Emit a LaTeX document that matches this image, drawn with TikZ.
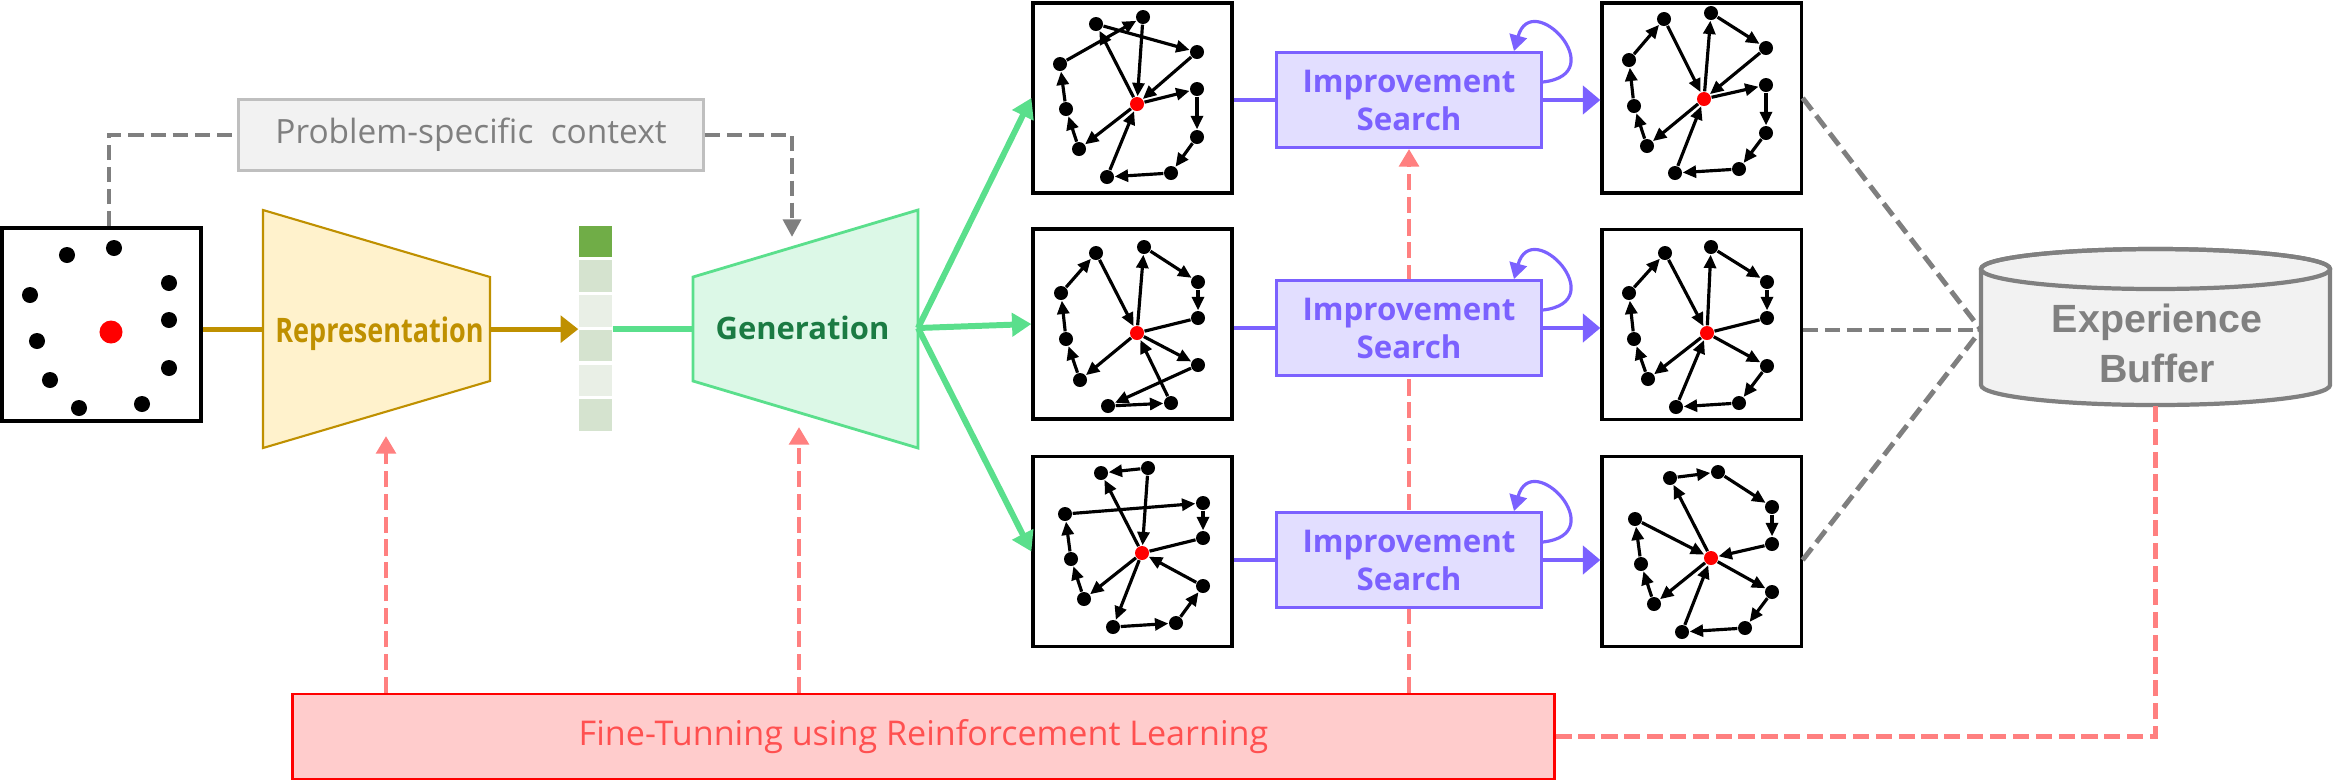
\documentclass[tikz,border=0pt]{standalone}
\usepackage{fontspec}
\setmainfont{Open Sans}
\newfontfamily\narrowsans[FakeStretch=0.8]{Open Sans}
\newfontfamily\buffersans{Liberation Sans}
\usetikzlibrary{arrows.meta,positioning}

\definecolor{ctxGray}{HTML}{7F7F7F}
\definecolor{ctxFill}{HTML}{F2F2F2}
\definecolor{ctxEdge}{HTML}{BFBFBF}
\definecolor{repGold}{HTML}{BF9000}
\definecolor{repFill}{HTML}{FFF2CC}
\definecolor{vecDark}{HTML}{70AD47}
\definecolor{vecMid}{HTML}{D5E3CF}
\definecolor{vecLight}{HTML}{E9EFE6}
\definecolor{genGreen}{HTML}{5ADF8C}
\definecolor{genFill}{HTML}{DCF8E7}
\definecolor{genText}{HTML}{1B7B43}
\definecolor{isPurple}{HTML}{7B61FF}
\definecolor{isFill}{HTML}{E2DEFF}
\definecolor{rlRed}{HTML}{FF8080}
\definecolor{ftFill}{HTML}{FFCCCC}
\definecolor{ftText}{HTML}{FF5050}
\definecolor{bufGray}{HTML}{808080}

\newcommand{\drawtours}[4]{%
  \node[depot] (#1r) at (#2) {};
  \foreach \n/\x/\y in {#3} \node[dot] (#1\n) at (\x,\y) {};
  \foreach \src/\dst in {#4} \draw[tour] (#1\src) -- (#1\dst);
}

\tikzset{
  dot/.style={circle,fill=black,inner sep=0pt,minimum size=0.14cm},
  depot/.style={dot,fill=red},
  bigdot/.style={circle,fill=black,inner sep=0pt,minimum size=0.16cm},
  tour/.style={line width=0.9pt,-{Triangle[length=3.8pt,width=3.4pt]}},
  route/.style={line width=0.9pt},
  panel/.style={draw,line width=0.9pt,minimum width=1.99cm,minimum height=1.9cm,inner sep=0pt},
  cell/.style={minimum width=0.33cm,minimum height=0.315cm,inner sep=0pt},
  context/.style={draw=ctxEdge,fill=ctxFill,line width=0.85pt,minimum width=4.64cm,minimum height=0.7cm,
    text=ctxGray,font=\fontsize{9.5}{11}\selectfont},
  search/.style={draw=isPurple,fill=isFill,line width=0.8pt,minimum width=2.65cm,minimum height=0.95cm,
    inner sep=0pt,align=center,text=isPurple,font=\bfseries\fontsize{8.9}{10.8}\selectfont},
  finetune/.style={draw=red,fill=ftFill,line width=0.7pt,minimum width=12.61cm,minimum height=0.85cm,
    text=ftText,font=\fontsize{9.7}{11}\selectfont},
  ctxLine/.style={draw=ctxGray,line width=1.4pt,dash pattern=on 4.3pt off 2pt},
  ctxArrow/.style={ctxLine,-{Triangle[length=5pt,width=5pt]}},
  rlLine/.style={draw=rlRed,line width=1.25pt,dash pattern=on 4.6pt off 1.9pt},
  rlArrow/.style={rlLine,-{Triangle[length=5pt,width=5.5pt]}},
  repArrow/.style={draw=repGold,line width=1.4pt,-{Triangle[length=5pt,width=7.5pt]}},
  genLine/.style={draw=genGreen,line width=1.7pt},
  genArrow/.style={genLine,-{Triangle[length=5.5pt,width=6.5pt]}},
  searchLine/.style={draw=isPurple,line width=1.4pt},
  searchArrow/.style={searchLine,-{Triangle[length=5pt,width=8pt]}},
  loopArrow/.style={draw=isPurple,line width=0.9pt,-{Triangle[length=4.5pt,width=5pt]}},
}

\begin{document}
\begin{tikzpicture}[x=0.01cm,y=-0.01cm]
\useasboundingbox (0,0) rectangle (2334,781);

% instance and context
\node[context] (ctx) at (471,135) {Problem-specific\ \ context};
\node[panel,minimum height=1.93cm] (input) at (101.5,324.5) {};
\node[depot,minimum size=0.23cm] (in0) at (111,332) {};
\foreach \x/\y [count=\k] in {67/255,114/248,169/283,30/295,169/320,37/341,169/368,50/380,79/408,142/404}
  \node[bigdot] (in\k) at (\x,\y) {};
\coordinate (genTop) at (792,237);
\draw[ctxLine] ([xshift=0.075cm]input.north) |- (ctx.west);
\draw[ctxArrow] (ctx.east) -| (genTop);

% embedding
\foreach \c [count=\i from 0] in {vecDark,vecMid,vecLight,vecMid,vecLight,vecMid}
  \node[cell,fill=\c] (v\i) at (595.5,241.5+34.7*\i) {};

% representation
\draw[repArrow] (input.east |- v3.north) -- (v3.north west);
\path[draw=repGold,fill=repFill,line width=0.6pt] (263,210) -- (490,277) -- (490,381) -- (263,448) -- cycle;
\node[anchor=base,text=repGold,font=\narrowsans\bfseries\fontsize{9.6}{11}\selectfont] (rep) at (379.5,342) {Representation};

% generation
\coordinate (genL) at (693,328);
\coordinate (genR) at (918,328);
\path[draw=genGreen,fill=genFill,line width=0.8pt] (693,277) -- (918,210) -- (918,448) -- (693,381) -- cycle;
\node[anchor=base,text=genText,font=\bfseries\fontsize{8.8}{10}\selectfont] (gen) at (802.5,339) {Generation};
\draw[genLine] (v3.north east) -- (v3.north east -| genL);

% solutions
\node[panel] (tl) at (1132.5,98) {};
\node[panel] (ml) at (1132.5,324) {};
\node[panel] (bl) at (1132.5,551.5) {};
\node[panel] (tr) at (1701.5,98) {};
\node[panel] (mr) at (1701.5,324.5) {};
\node[panel] (br) at (1701.5,551.5) {};
\foreach \p in {tl,ml,bl} \draw[genArrow] (genR) -- (\p.west);

\drawtours{tl}{1137,104}{a/1096/24,b/1143/17,c/1197/52,d/1060/64,e/1197/89,f/1066/109,g/1197/137,h/1079/149,i/1171/173,j/1107/177}
  {a/c,d/b,b/r,r/a,c/r,r/e,r/h,h/f,f/d,e/g,g/i,i/j,j/r}
\drawtours{tr}{1704,99}{a/1664/19,b/1711/13,c/1766/48,d/1629/60,e/1766/85,f/1634/106,g/1766/133,h/1647/146,i/1739/169,j/1675/173}
  {r/b,b/c,c/r,a/r,d/a,f/d,h/f,r/h,r/e,e/g,g/i,i/j,j/r}
\drawtours{ml}{1137,333}{a/1096/253,b/1144/247,c/1198/282,d/1061/293,e/1198/318,f/1066/339,g/1198/365,h/1080/380,i/1171/403,j/1108/406}
  {r/b,b/c,c/e,a/r,d/a,f/d,h/f,r/h,r/g,g/j,j/i,i/r}
\draw[route] (mle) -- (mlr);
\drawtours{mr}{1707,333}{a/1665/253,b/1711/247,c/1767/282,d/1629/293,e/1767/318,f/1634/339,g/1767/366,h/1648/379,i/1739/403,j/1676/407}
  {r/b,b/c,c/e,a/r,d/a,f/d,h/f,r/h,r/g,g/i,i/j,j/r}
\draw[route] (mre) -- (mrr);
\drawtours{bl}{1142,553}{a/1101/473,b/1148/468,c/1203/503,d/1065/514,e/1203/538,f/1071/559,g/1203/586,h/1084/599,i/1176/623,j/1113/627}
  {b/a,b/r,r/a,d/c,c/e,g/r,r/h,h/f,f/d,r/j,j/i,i/g}
\draw[route] (ble) -- (blr);
\drawtours{br}{1711,558}{a/1670/478,b/1718/472,c/1772/507,d/1635/519,e/1772/544,f/1641/564,g/1772/592,h/1654/604,i/1745/628,j/1682/632}
  {a/b,b/c,c/e,e/r,r/a,d/r,f/d,h/f,r/h,r/g,g/i,i/j,j/r}

% improvement search
\node[finetune] (ft) at (923.5,736.5) {Fine-Tunning using Reinforcement Learning};
\node[search] (is1) at (1409,100) {Improvement\\Search};
\draw[rlArrow] (ft.north -| is1.south) -- (is1.south);
\node[search] (is2) at (1409,328) {Improvement\\Search};
\node[search] (is3) at (1409,560) {Improvement\\Search};
\foreach \isb/\lft/\rgt in {is1/tl/tr,is2/ml/mr,is3/bl/br} {
  \draw[searchLine] (\isb.west -| \lft.east) -- (\isb.west);
  \draw[searchArrow] (\isb.east) -- (\isb.east -| \rgt.west);
  \draw[loopArrow] ([yshift=0.18cm]\isb.east) .. controls +(70,-8) and +(18,-64) .. ([xshift=-0.29cm]\isb.north east);
}

% experience buffer
\path[draw=bufGray,fill=ctxFill,line width=1.2pt] (1981,269) -- (1981,385)
  arc[start angle=180,end angle=0,x radius=174.5,y radius=20] -- (2330,269)
  arc[start angle=0,end angle=-180,x radius=174.5,y radius=20] -- cycle;
\draw[bufGray,line width=1.2pt] (2155.5,269) ellipse[x radius=174.5,y radius=20];
\node[text=bufGray,align=center,font=\buffersans\bfseries\fontsize{11.2}{14.2}\selectfont] (buf) at (2157,343.5) {Experience\\Buffer};
\coordinate (bufW) at (1981,330);
\coordinate (bufS) at (2155.5,405);
\draw[ctxLine] (tr.east) -- (bufW);
\draw[ctxLine] (mr.east |- bufW) -- (bufW);
\draw[ctxLine] (br.east |- is3.east) -- (bufW);
\draw[rlLine] (ft.east) -| (bufS);

% feedback
\coordinate (repTip) at (386,436);
\coordinate (genTip) at (799,427);
\draw[rlArrow] (ft.north -| repTip) -- (repTip);
\draw[rlArrow] (ft.north -| genTip) -- (genTip);
\end{tikzpicture}
\end{document}
